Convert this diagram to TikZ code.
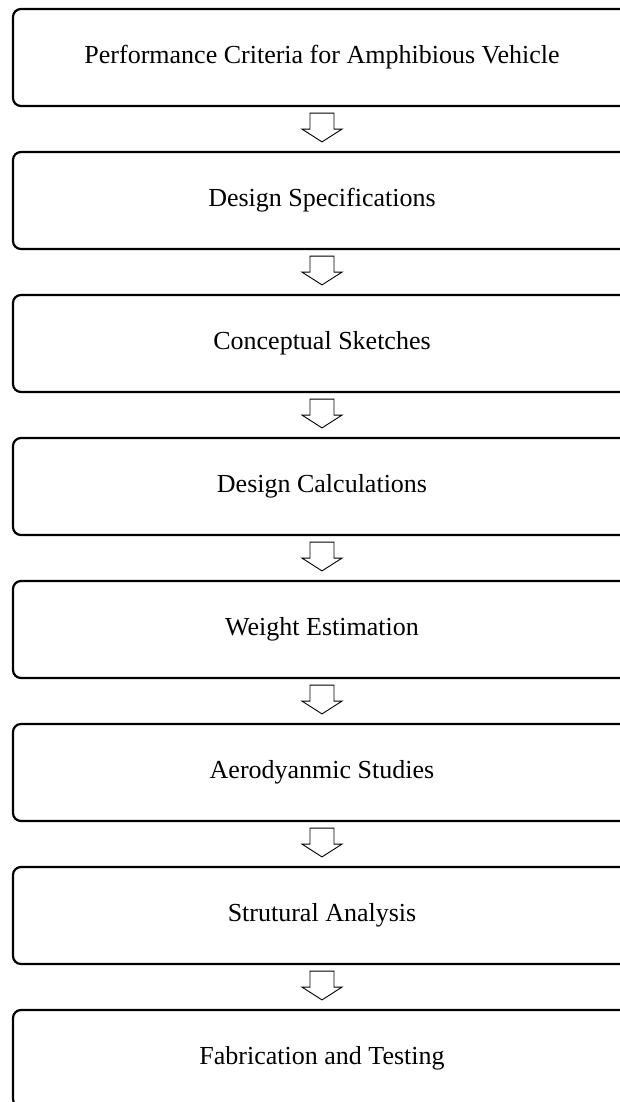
\documentclass[tikz,border=0pt]{standalone}
\usepackage{fontspec}
\setmainfont{Liberation Serif}
\usetikzlibrary{calc}
\tikzset{
  stage/.style={draw, line width=2.2pt, rounded corners=8pt, minimum width=618pt,
    minimum height=97pt, font=\fontsize{26}{30}\selectfont, text height=17pt,
    text depth=5pt, inner sep=0pt, fill=white},
  blockarrow/.style={draw, line width=0.9pt, fill=white, line join=miter}
}
\newcommand\stagearrow[2]{%
  \draw[blockarrow] ([shift={(-12,6)}]#1.south) -- ([shift={(-12,22)}]#1.south)
    -- ([shift={(-20,22)}]#1.south) -- ([shift={(0,-9)}]#2.north)
    -- ([shift={(20,22)}]#1.south) -- ([shift={(12,22)}]#1.south)
    -- ([shift={(12,6)}]#1.south) -- cycle;}
\begin{document}
\begin{tikzpicture}[x=1pt,y=-1pt]
\clip (0,0) rectangle (620,1102);
\fill[white] (0,0) rectangle (620,1102);
\node[stage] (s1) at (322,57.5) {Performance Criteria for Amphibious Vehicle};
\node[stage] (s2) at (322,200.5) {Design Specifications};
\node[stage] (s3) at (322,343.5) {Conceptual Sketches};
\node[stage] (s4) at (322,486.5) {Design Calculations};
\node[stage] (s5) at (322,629.5) {Weight Estimation};
\node[stage] (s6) at (322,772.5) {Aerodyanmic Studies};
\node[stage] (s7) at (322,915.5) {Strutural Analysis};
\node[stage] (s8) at (322,1058.5) {Fabrication and Testing};
\stagearrow{s1}{s2}
\stagearrow{s2}{s3}
\stagearrow{s3}{s4}
\stagearrow{s4}{s5}
\stagearrow{s5}{s6}
\stagearrow{s6}{s7}
\stagearrow{s7}{s8}
\end{tikzpicture}
\end{document}
